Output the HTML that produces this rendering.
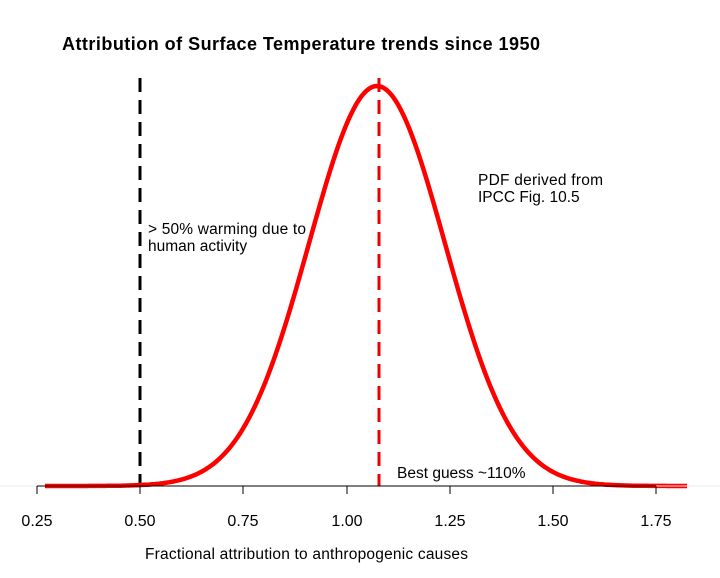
<!DOCTYPE html>
<html><head><meta charset="utf-8"><style>
body{margin:0;background:#fff;}
svg{display:block;font-family:"Liberation Sans",Arial,sans-serif;}
</style></head><body>
<svg id="s" width="720" height="578" viewBox="0 0 720 578">
<text x="62" y="50" font-size="18" font-weight="bold" fill="#000" textLength="478">Attribution of Surface Temperature trends since 1950</text>
<line x1="140" y1="78" x2="140" y2="486" stroke="#000" stroke-width="3" stroke-dasharray="14,8"/>
<line x1="379" y1="78" x2="379" y2="486" stroke="#e00" stroke-width="3" stroke-dasharray="14,8"/>
<path id="c" d="" fill="none" stroke="#f00" stroke-width="4.5" stroke-linejoin="round"/>
<line x1="0" y1="486" x2="720" y2="486" stroke="#eee" stroke-width="1"/>
<line x1="37" y1="486" x2="656" y2="486" stroke="#000" stroke-width="1"/>
<g stroke="#000" stroke-width="1">
<line x1="37" y1="486" x2="37" y2="494"/><line x1="140" y1="486" x2="140" y2="494"/><line x1="243" y1="486" x2="243" y2="494"/><line x1="347" y1="486" x2="347" y2="494"/><line x1="450" y1="486" x2="450" y2="494"/><line x1="553" y1="486" x2="553" y2="494"/><line x1="656" y1="486" x2="656" y2="494"/>
</g>
<g font-size="16" text-anchor="middle" fill="#000">
<text x="37" y="526">0.25</text><text x="140" y="526">0.50</text><text x="243" y="526">0.75</text><text x="347" y="526">1.00</text><text x="450" y="526">1.25</text><text x="553" y="526">1.50</text><text x="656" y="526">1.75</text>
</g>
<text x="145" y="559" font-size="15.5" fill="#000" textLength="323">Fractional attribution to anthropogenic causes</text>
<text x="148" y="234" font-size="15.5" fill="#000" textLength="158">&gt; 50% warming due to</text>
<text x="148" y="251" font-size="15.5" fill="#000">human activity</text>
<text x="478" y="185" font-size="15.5" fill="#000" textLength="125">PDF derived from</text>
<text x="478" y="202" font-size="15.5" fill="#000">IPCC Fig. 10.5</text>
<text x="397" y="478" font-size="15.5" fill="#000">Best guess ~110%</text>
</svg>
<script>
var d="";for(var x=45;x<=688;x+=2){var z=(x-377)/68;var y=486-400*Math.exp(-z*z/2);d+=(x==45?"M":"L")+x+","+y.toFixed(1);}
document.getElementById("c").setAttribute("d",d);
</script>
</body></html>
